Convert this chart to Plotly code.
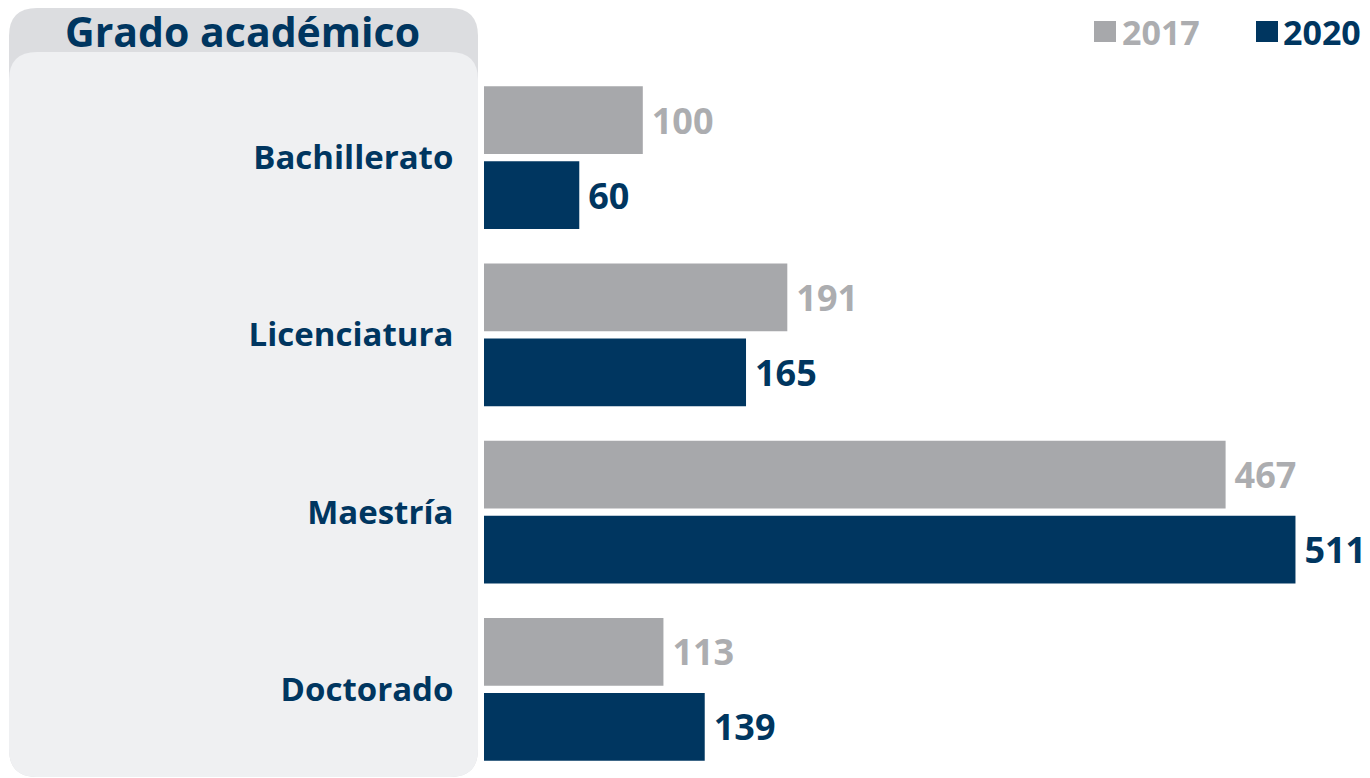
import plotly.graph_objects as go

categories = ["Bachillerato", "Licenciatura", "Maestría", "Doctorado"]
values_2017 = [100, 191, 467, 113]
values_2020 = [60, 165, 511, 139]
series_names = ["2017", "2020"]
title_text = "Grado académico"

W, H = 1370, 778
GRAY = "#a7a8ab"
GRAY_TXT = "#acadb0"
NAVY = "#003660"
FONT = "Open Sans"

def px(x):
    return x / W

def py(y):
    return 1 - y / H

def rounded_path(x0, y0, x1, y1, r):
    pts = [
        ("M", x0, y0 + r),
        ("Q", x0, y0, x0 + r, y0),
        ("L", x1 - r, y0),
        ("Q", x1, y0, x1, y0 + r),
        ("L", x1, y1 - r),
        ("Q", x1, y1, x1 - r, y1),
        ("L", x0 + r, y1),
        ("Q", x0, y1, x0, y1 - r),
    ]
    s = ""
    for p in pts:
        if p[0] == "Q":
            s += f"Q{px(p[1]):.5f},{py(p[2]):.5f} {px(p[3]):.5f},{py(p[4]):.5f} "
        else:
            s += f"{p[0]}{px(p[1]):.5f},{py(p[2]):.5f} "
    return s + "Z"

fig = go.Figure()
fig.add_trace(go.Bar(
    y=categories, x=values_2017, name=series_names[0], orientation="h",
    marker=dict(color=GRAY, line=dict(width=0)),
    text=values_2017, texttemplate="\u2009%{text}", textposition="outside",
    textfont=dict(family=FONT, size=36, color=GRAY_TXT, weight="bold"),
    cliponaxis=False,
))
fig.add_trace(go.Bar(
    y=categories, x=values_2020, name=series_names[1], orientation="h",
    marker=dict(color=NAVY, line=dict(width=0)),
    text=values_2020, texttemplate="\u2009%{text}", textposition="outside",
    textfont=dict(family=FONT, size=36, color=NAVY, weight="bold"),
    cliponaxis=False,
))

shapes = [
    dict(type="path", xref="paper", yref="paper", path=rounded_path(9, 8, 478, 777, 28),
         fillcolor="#dcdde0", line=dict(width=0), layer="below"),
    dict(type="path", xref="paper", yref="paper", path=rounded_path(9, 52, 478, 777, 28),
         fillcolor="#eff0f2", line=dict(width=0), layer="below"),
    dict(type="rect", xref="paper", yref="paper", x0=px(1094), x1=px(1116), y0=py(42), y1=py(21),
         fillcolor=GRAY, line=dict(width=0)),
    dict(type="rect", xref="paper", yref="paper", x0=px(1256), x1=px(1278), y0=py(42), y1=py(21),
         fillcolor=NAVY, line=dict(width=0)),
]

annotations = [
    dict(text=f"<b>{title_text}</b>", xref="paper", yref="paper", x=px(243), y=py(31),
         xanchor="center", yanchor="middle", showarrow=False,
         font=dict(family=FONT, size=41, color=NAVY)),
    dict(text=f"<b>{series_names[0]}</b>", xref="paper", yref="paper", x=px(1120), y=py(32),
         xanchor="left", yanchor="middle", showarrow=False,
         font=dict(family=FONT, size=34, color=GRAY_TXT)),
    dict(text=f"<b>{series_names[1]}</b>", xref="paper", yref="paper", x=px(1281), y=py(32),
         xanchor="left", yanchor="middle", showarrow=False,
         font=dict(family=FONT, size=34, color=NAVY)),
]

fig.update_layout(
    width=W, height=H,
    margin=dict(l=0, r=0, t=0, b=0),
    paper_bgcolor="white", plot_bgcolor="rgba(0,0,0,0)",
    barmode="group", bargap=0.153, bargroupgap=0.097,
    showlegend=False,
    shapes=shapes, annotations=annotations,
    xaxis=dict(domain=[484 / W, 1], range=[0, 886 / 1.588], visible=False, fixedrange=True),
    yaxis=dict(domain=[0, 1 - 69 / H], autorange="reversed", showgrid=False, zeroline=False,
               showline=False, ticks="outside", ticklen=23, tickcolor="rgba(0,0,0,0)",
               fixedrange=True,
               tickfont=dict(family=FONT, size=33, color=NAVY, weight="bold")),
)

fig.write_html(
    "out.html",
    config={"displayModeBar": False},
    post_script="document.body.style.margin='0';document.body.style.overflow='hidden';",
)
